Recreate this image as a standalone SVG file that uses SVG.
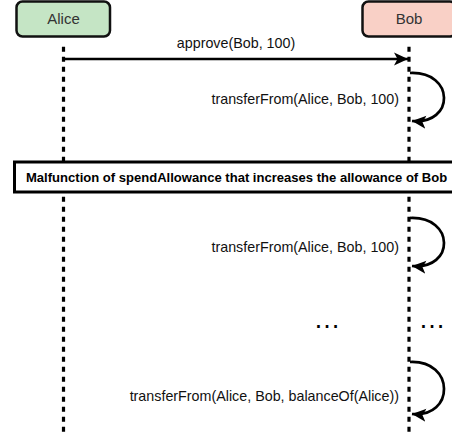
<svg xmlns="http://www.w3.org/2000/svg" width="452" height="435" viewBox="0 0 452 435">
<style>
.actor{stroke:#111;stroke-width:2.5}
.name{font-family:"Liberation Sans",Arial,sans-serif;font-size:15px;fill:#333;text-anchor:middle}
.msg{font-family:"Liberation Sans",Arial,sans-serif;font-size:14.3px;fill:#111}
.life{stroke:#000;stroke-width:3.2;stroke-dasharray:5 5;fill:none}
.arrow{stroke:#000;stroke-width:2.7;fill:none}
.note{font-family:"Liberation Sans",Arial,sans-serif;font-size:13.05px;font-weight:bold;fill:#000}
.dots{font-family:"Liberation Sans",Arial,sans-serif;font-size:27px;fill:#000;text-anchor:middle}
</style>
<defs>
<marker id="head" markerUnits="userSpaceOnUse" markerWidth="15" markerHeight="14" refX="14" refY="7" orient="auto">
<path d="M0,0.5 L14,7 L0,13.5 L3.5,7 z" fill="#000"/>
</marker>
</defs>
<g id="lifelines">
<line class="life" x1="63.5" y1="46.7" x2="63.5" y2="435"/>
<line class="life" x1="409" y1="46.7" x2="409" y2="435"/>
</g>
<g id="alice">
<rect class="actor" x="16.5" y="1.5" width="93.5" height="35" rx="6" fill="#c5e5c5"/>
<text class="name" x="63.5" y="24">Alice</text>
</g>
<g id="bob">
<rect class="actor" x="362.5" y="1.5" width="93.5" height="35" rx="6" fill="#f9d0c6"/>
<text class="name" x="409" y="24">Bob</text>
</g>
<g id="connectors">
<line class="arrow" x1="63.5" y1="59" x2="408" y2="59" marker-end="url(#head)"/>
<text class="msg" x="236" y="48" text-anchor="middle">approve(Bob, 100)</text>
<path class="arrow" d="M410,73 C455,71 455,125 412,121" marker-end="url(#head)"/>
<text class="msg" x="399" y="104" text-anchor="end">transferFrom(Alice, Bob, 100)</text>
<path class="arrow" d="M410,218 C455,216 455,270 412,266" marker-end="url(#head)"/>
<text class="msg" x="399" y="252" text-anchor="end">transferFrom(Alice, Bob, 100)</text>
<path class="arrow" d="M410,362 C455,360 455,418 412,414" marker-end="url(#head)"/>
<text class="msg" x="399" y="401" text-anchor="end">transferFrom(Alice, Bob, balanceOf(Alice))</text>
</g>
<g id="malfunction">
<rect x="14.5" y="162" width="445" height="30" fill="#fff" stroke="#000" stroke-width="3"/>
<text class="note" x="26" y="181.5">Malfunction of spendAllowance that increases the allowance of Bob</text>
</g>
<g id="ellipses">
<text class="dots" x="327" y="328">…</text>
<text class="dots" x="432" y="328">…</text>
</g>
</svg>
